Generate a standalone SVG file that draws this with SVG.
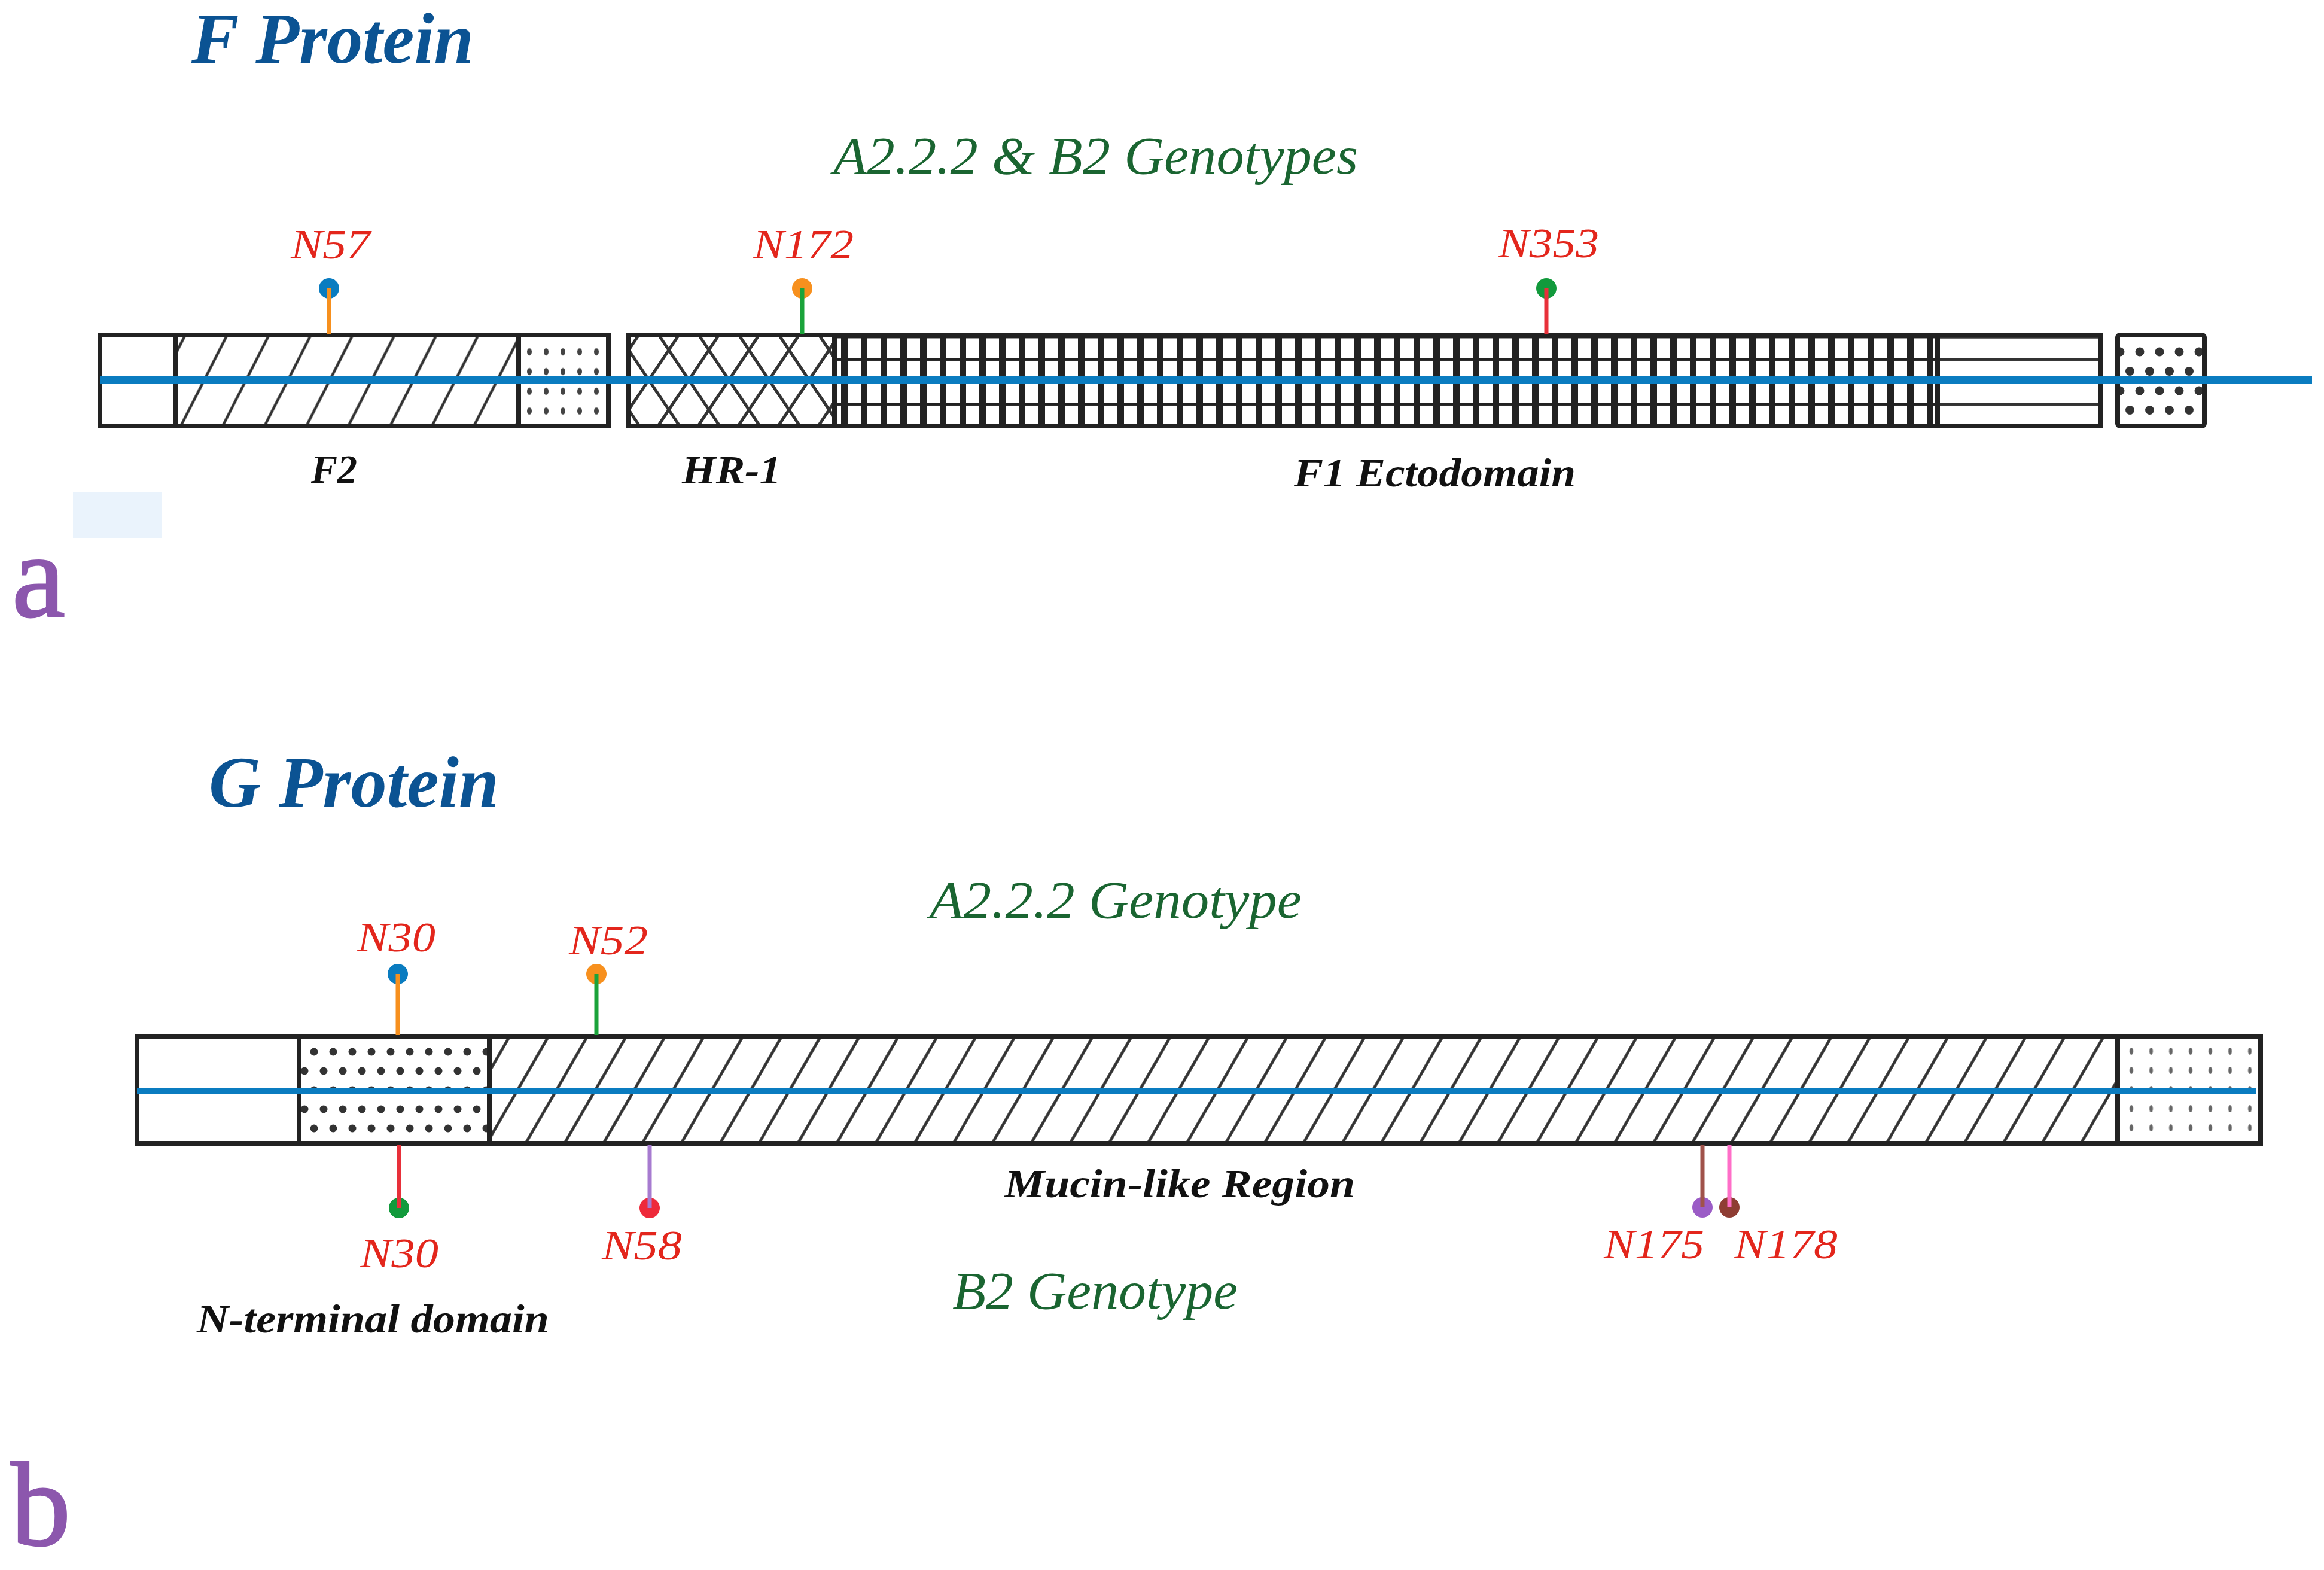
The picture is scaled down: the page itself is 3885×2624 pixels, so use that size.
<svg xmlns="http://www.w3.org/2000/svg" width="3885" height="2624" viewBox="0 0 3885 2624">
<defs>
<style>
.bar{stroke:#222;stroke-width:8}
.t{font-family:"Liberation Serif","Times New Roman",serif;font-style:italic}
.red{fill:#e3261c;font-size:70px}
.blk{fill:#111;font-weight:bold;font-size:68px}
.grn{fill:#1a6531;font-size:88px}
.ttl{fill:#0b5393;font-size:121px;font-weight:bold}
.let{fill:#8c57ad;font-size:200px;font-family:"Liberation Serif","Times New Roman",serif}
.bb{stroke:#0a7cc0}
.stem{stroke-width:7}
</style>
<pattern id="hatchF" patternUnits="userSpaceOnUse" width="70" height="20" patternTransform="skewX(-27)">
<rect width="70" height="20" fill="#fff"/>
<line x1="35" y1="-5" x2="35" y2="25" stroke="#333" stroke-width="5"/>
</pattern>
<pattern id="hatchG" patternUnits="userSpaceOnUse" width="65" height="20" patternTransform="skewX(-30)">
<rect width="65" height="20" fill="#fff"/>
<line x1="32" y1="-5" x2="32" y2="25" stroke="#333" stroke-width="5.5"/>
</pattern>
<pattern id="cross" patternUnits="userSpaceOnUse" x="1051" y="585" width="67" height="100">
<rect width="67" height="100" fill="#fff"/>
<path d="M0,0 L67,100 M67,0 L134,100 M-67,0 L0,100 M67,0 L0,100 M0,0 L-67,100 M134,0 L67,100" stroke="#333" stroke-width="5" fill="none"/>
</pattern>
<pattern id="grid" patternUnits="userSpaceOnUse" x="1395" y="561.5" width="33" height="37.5">
<rect width="33" height="37.5" fill="#fff"/>
<line x1="16.5" y1="0" x2="16.5" y2="37.5" stroke="#222" stroke-width="11"/>
<line x1="0" y1="0" x2="33" y2="0" stroke="#222" stroke-width="8"/>
</pattern>
<pattern id="stripes" patternUnits="userSpaceOnUse" x="0" y="561.5" width="40" height="37.5">
<rect width="40" height="37.5" fill="#fff"/>
<line x1="0" y1="0" x2="40" y2="0" stroke="#333" stroke-width="9"/>
</pattern>
<pattern id="dotsF" patternUnits="userSpaceOnUse" x="871" y="571.5" width="28" height="33">
<rect width="28" height="33" fill="#fff"/>
<ellipse cx="14" cy="16.5" rx="4" ry="6" fill="#444"/>
</pattern>
<pattern id="dotsBig" patternUnits="userSpaceOnUse" x="3544" y="588" width="33" height="65">
<rect width="33" height="65" fill="#fff"/>
<circle cx="0" cy="0" r="7.5" fill="#333"/>
<circle cx="33" cy="0" r="7.5" fill="#333"/>
<circle cx="0" cy="65" r="7.5" fill="#333"/>
<circle cx="33" cy="65" r="7.5" fill="#333"/>
<circle cx="16.5" cy="32.5" r="7.5" fill="#333"/>
</pattern>
<pattern id="dotsG" patternUnits="userSpaceOnUse" x="509" y="1758" width="32" height="64">
<rect width="32" height="64" fill="#fff"/>
<circle cx="16" cy="0" r="6.5" fill="#333"/>
<circle cx="0" cy="32" r="6.5" fill="#333"/>
<circle cx="32" cy="32" r="6.5" fill="#333"/>
<circle cx="16" cy="64" r="6.5" fill="#333"/>
</pattern>
<pattern id="dotsG2" patternUnits="userSpaceOnUse" x="3546.5" y="1741" width="33" height="32">
<rect width="33" height="32" fill="#fff"/>
<ellipse cx="16.5" cy="16" rx="3" ry="6" fill="#666"/>
</pattern>
</defs>
<rect width="3885" height="2624" fill="#fff"/>

<g id="titles">
<text class="t ttl" x="320" y="105" textLength="472" lengthAdjust="spacingAndGlyphs">F Protein</text>
<text class="t grn" x="1393" y="290" textLength="877" lengthAdjust="spacingAndGlyphs">A2.2.2 &amp; B2 Genotypes</text>
<text class="let" x="20" y="1030" stroke="#8c57ad" stroke-width="3">a</text>
<rect x="122" y="823" width="148" height="77" fill="#eaf3fc"/>
<text class="t ttl" x="349" y="1348" textLength="485" lengthAdjust="spacingAndGlyphs">G Protein</text>
<text class="t grn" x="1554" y="1534" font-size="86" textLength="622" lengthAdjust="spacingAndGlyphs">A2.2.2 Genotype</text>
<text class="t grn" x="1592" y="2187" font-size="84" textLength="477" lengthAdjust="spacingAndGlyphs">B2 Genotype</text>
<text class="let" x="18" y="2582" font-size="190" stroke="#8c57ad" stroke-width="3">b</text>
</g>

<g id="f-cytoplasmic"><rect class="bar" x="167" y="560" width="126" height="152" fill="#fff"/></g>
<g id="f-f2"><rect class="bar" x="293" y="560" width="574" height="152" fill="url(#hatchF)"/>
<text class="t blk" x="520" y="807" textLength="77" lengthAdjust="spacingAndGlyphs">F2</text></g>
<g id="f-p27"><rect class="bar" x="867" y="560" width="150" height="152" fill="url(#dotsF)"/></g>
<g id="f-hr1"><rect class="bar" x="1051" y="560" width="344" height="152" fill="url(#cross)"/>
<text class="t blk" x="1140" y="808" textLength="166" lengthAdjust="spacingAndGlyphs">HR-1</text></g>
<g id="f-ectodomain"><rect class="bar" x="1395" y="560" width="1844" height="152" fill="url(#grid)"/>
<text class="t blk" x="2163" y="813" textLength="471" lengthAdjust="spacingAndGlyphs">F1 Ectodomain</text></g>
<g id="f-hr2"><rect class="bar" x="3239" y="560" width="273" height="152" fill="url(#stripes)"/></g>
<g id="f-tm"><rect class="bar" x="3540" y="560" width="145" height="152" rx="4" fill="url(#dotsBig)"/></g>

<g id="g-cytoplasmic"><rect class="bar" x="229" y="1732" width="271" height="179" fill="#fff"/></g>
<g id="g-nterminal"><rect class="bar" x="500" y="1732" width="318" height="179" fill="url(#dotsG)"/>
<text class="t blk" x="329" y="2227" textLength="589" lengthAdjust="spacingAndGlyphs">N-terminal domain</text></g>
<g id="g-mucin"><rect class="bar" x="818" y="1732" width="2722" height="179" fill="url(#hatchG)"/>
<text class="t blk" x="1679" y="2001" font-size="66" textLength="586" lengthAdjust="spacingAndGlyphs">Mucin-like Region</text></g>
<g id="g-end"><rect class="bar" x="3540" y="1732" width="239" height="179" fill="url(#dotsG2)"/></g>

<g id="backbones">
<line class="bb" x1="167" y1="635" x2="3865" y2="635" stroke-width="12"/>
<line class="bb" x1="229" y1="1823" x2="3771" y2="1823" stroke-width="10"/>
</g>

<g id="pin-f-n57"><circle cx="550" cy="482" r="17" fill="#0a7cc0"/><text class="t red" x="486" y="432" textLength="133" lengthAdjust="spacingAndGlyphs">N57</text></g>
<g id="pin-f-n172"><circle cx="1341" cy="482" r="17" fill="#f7901e"/><text class="t red" x="1259" y="432" textLength="168" lengthAdjust="spacingAndGlyphs">N172</text></g>
<g id="pin-f-n353"><circle cx="2585" cy="482" r="17" fill="#129a3c"/><text class="t red" x="2505" y="430" textLength="168" lengthAdjust="spacingAndGlyphs">N353</text></g>

<g id="pin-g-n30a"><circle cx="665" cy="1628" r="17" fill="#0a7cc0"/><text class="t red" x="597" y="1590" font-size="68" textLength="131" lengthAdjust="spacingAndGlyphs">N30</text></g>
<g id="pin-g-n52"><circle cx="997" cy="1628" r="17" fill="#f7901e"/><text class="t red" x="951" y="1595" font-size="68" textLength="132" lengthAdjust="spacingAndGlyphs">N52</text></g>
<g id="pin-g-n30b"><circle cx="667" cy="2019" r="17" fill="#129a3c"/><text class="t red" x="602" y="2118" font-size="68" textLength="131" lengthAdjust="spacingAndGlyphs">N30</text></g>
<g id="pin-g-n58"><circle cx="1086" cy="2019" r="17" fill="#ee2a3a"/><text class="t red" x="1006" y="2105" font-size="68" textLength="134" lengthAdjust="spacingAndGlyphs">N58</text></g>
<g id="pin-g-n175"><circle cx="2846" cy="2018" r="17" fill="#9b5cc6"/><text class="t red" x="2681" y="2103" textLength="168" lengthAdjust="spacingAndGlyphs">N175</text></g>
<g id="pin-g-n178"><circle cx="2891" cy="2018" r="17" fill="#8e3d33"/><text class="t red" x="2899" y="2103" textLength="173" lengthAdjust="spacingAndGlyphs">N178</text></g>

<g id="connectors" class="stem">
<line x1="550" y1="482" x2="550" y2="558" stroke="#f7901e" stroke-width="7"/>
<line x1="1341" y1="482" x2="1341" y2="558" stroke="#1aa33a" stroke-width="7"/>
<line x1="2585" y1="482" x2="2585" y2="558" stroke="#e8303a" stroke-width="7"/>
<line x1="665" y1="1628" x2="665" y2="1730" stroke="#f7901e" stroke-width="7"/>
<line x1="997" y1="1628" x2="997" y2="1730" stroke="#1aa33a" stroke-width="7"/>
<line x1="667" y1="1913" x2="667" y2="2019" stroke="#e8303a" stroke-width="7"/>
<line x1="1086" y1="1913" x2="1086" y2="2019" stroke="#a77bd0" stroke-width="7"/>
<line x1="2846" y1="1913" x2="2846" y2="2018" stroke="#a0524a" stroke-width="7"/>
<line x1="2891" y1="1913" x2="2891" y2="2018" stroke="#ff6ec8" stroke-width="7"/>
</g>
</svg>
